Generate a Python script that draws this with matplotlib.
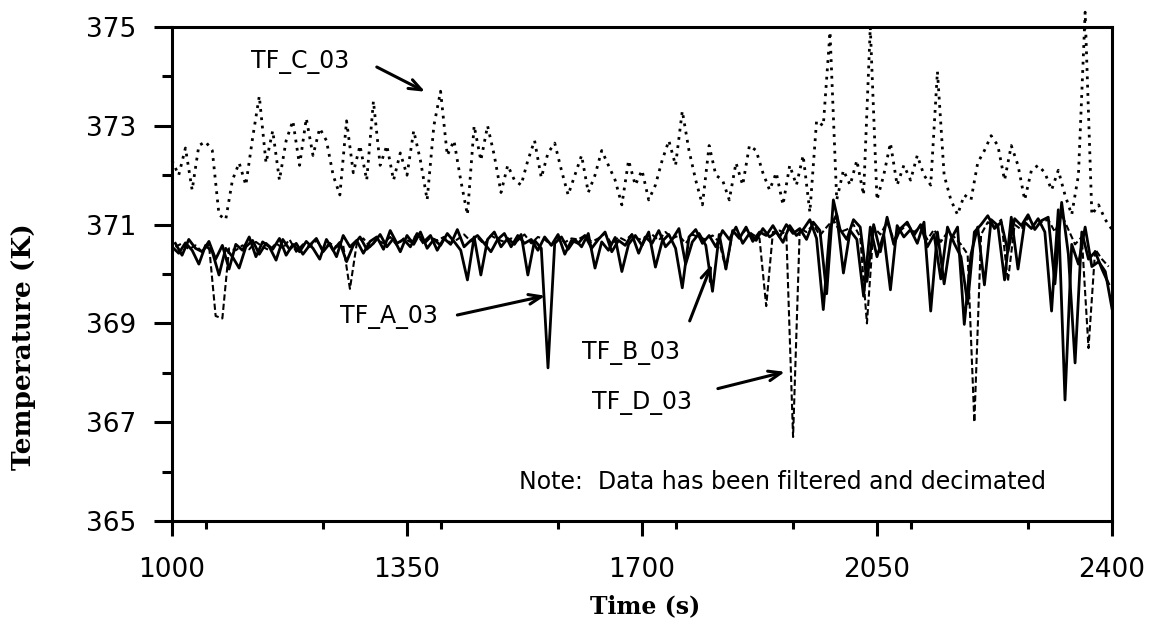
import numpy as np
import matplotlib
matplotlib.use("Agg")
import matplotlib.pyplot as plt
from matplotlib.ticker import MultipleLocator

# Thermocouple readings (K), sampled every 10 s
time_a = np.arange(1000, 2401, 10)
tf_a_03 = [
    370.55, 370.42, 370.63, 370.48, 370.20, 370.58, 370.45, 369.98, 370.52, 370.35,
    370.12, 370.55, 370.68, 370.40, 370.62, 370.50, 370.72, 370.38, 370.60, 370.45,
    370.66, 370.52, 370.30, 370.70, 370.48, 370.64, 370.25, 370.58, 370.75, 370.50,
    370.62, 370.80, 370.55, 370.72, 370.45, 370.78, 370.60, 370.85, 370.52, 370.70,
    370.58, 370.82, 370.66, 370.48, 369.88, 370.75, 369.98, 370.70, 370.85, 370.55,
    370.72, 370.60, 370.80, 369.98, 370.68, 370.52, 368.10, 370.62, 370.75, 370.50,
    370.70, 370.55, 370.82, 370.12, 370.65, 370.48, 370.74, 370.05, 370.60, 370.78,
    370.58, 370.85, 370.14, 370.66, 370.80, 370.52, 369.72, 370.75, 370.90, 370.62,
    370.78, 370.55, 370.88, 370.70, 370.95, 370.62, 370.82, 370.68, 370.92, 370.75,
    370.85, 370.64, 370.98, 370.78, 370.90, 371.10, 370.72, 369.28, 370.95, 371.20,
    370.02, 370.88, 370.70, 369.55, 370.95, 370.35, 370.80, 369.68, 370.98, 370.75,
    370.90, 370.62, 371.05, 369.25, 370.85, 369.80, 370.70, 370.95, 368.98, 370.40,
    370.95, 369.78, 371.10, 370.98, 369.88, 371.15, 370.10, 371.05, 370.92, 371.12,
    370.85, 369.25, 371.30, 367.45, 370.60, 370.20, 370.95, 370.15, 370.25, 370.05,
    369.30,
]

time_b = np.arange(1005, 2400, 10)
tf_b_03 = [
    370.62, 370.38, 370.70, 370.52, 370.45, 370.66, 370.30, 370.58, 370.10, 370.60,
    370.48, 370.75, 370.35, 370.65, 370.55, 370.28, 370.70, 370.50, 370.62, 370.40,
    370.58, 370.72, 370.45, 370.62, 370.35, 370.78, 370.55, 370.68, 370.42, 370.66,
    370.75, 370.50, 370.88, 370.62, 370.70, 370.55, 370.82, 370.65, 370.78, 370.48,
    370.72, 370.60, 370.90, 370.55, 370.68, 370.78, 370.62, 370.45, 370.70, 370.82,
    370.55, 370.78, 370.62, 370.70, 370.48, 370.75, 370.58, 370.80, 370.40, 370.68,
    370.62, 370.78, 370.52, 370.70, 370.85, 370.45, 370.68, 370.58, 370.80, 370.42,
    370.75, 370.62, 370.88, 370.55, 370.70, 370.92, 370.20, 370.65, 370.82, 370.58,
    369.65, 370.80, 370.10, 370.88, 370.72, 370.95, 370.66, 370.85, 370.78, 370.98,
    370.75, 371.00, 370.82, 370.92, 370.70, 371.05, 370.88, 369.60, 371.50, 370.90,
    370.70, 371.10, 370.95, 369.85, 371.00, 370.45, 371.15, 370.60, 370.92, 371.05,
    370.78, 371.00, 370.55, 370.80, 369.90, 370.95, 370.62, 370.35, 369.40, 370.85,
    371.00, 371.18, 370.92, 371.05, 370.45, 371.12, 370.98, 371.20, 370.90, 371.08,
    371.15, 369.80, 371.45, 370.40, 368.20, 370.85, 370.30, 370.45, 370.10, 369.80,
]

time_c = np.arange(1000, 2401, 10)
tf_c_03 = [
    372.30, 372.00, 372.55, 371.70, 372.60, 372.68, 372.50, 371.20, 371.10, 371.90,
    372.25, 371.80, 372.75, 373.60, 372.25, 372.90, 371.90, 372.70, 373.10, 372.20,
    373.15, 372.40, 372.95, 372.70, 372.00, 371.60, 373.10, 372.05, 372.60, 371.90,
    373.50, 372.20, 372.60, 371.90, 372.45, 372.00, 372.90, 372.30, 371.50, 373.00,
    373.70, 372.40, 372.70, 371.90, 371.20, 373.00, 372.30, 373.00, 372.40, 371.65,
    372.20, 371.90, 371.80, 372.30, 372.70, 371.95, 372.45, 372.65, 372.10, 371.60,
    372.00, 372.40, 371.65, 372.00, 372.50, 372.20, 371.90, 371.40, 372.30, 371.80,
    372.10, 371.50, 371.80, 372.30, 372.70, 372.20, 373.30, 372.50, 371.90, 371.40,
    372.60, 372.00, 371.90, 371.50, 372.25, 371.80, 372.60, 372.50, 372.05, 371.70,
    372.05, 371.40, 372.20, 371.80, 372.40, 371.25, 373.10, 373.00, 374.90, 371.50,
    372.10, 371.80, 372.30, 371.60, 375.00, 371.50, 372.00, 372.65, 371.80, 372.20,
    371.90, 372.40, 372.00, 371.80, 374.10, 372.00, 371.50, 371.20, 371.60, 371.50,
    372.25, 372.50, 372.80, 372.60, 371.90, 372.60, 372.20, 371.50, 372.10, 372.20,
    372.05, 371.70, 372.10, 371.60, 371.20, 372.00, 375.30, 371.20, 371.40, 371.10,
    370.90,
]

time_d = np.arange(1005, 2400, 10)
tf_d_03 = [
    370.55, 370.62, 370.50, 370.58, 370.45, 370.60, 369.15, 369.10, 370.52, 370.48,
    370.58, 370.50, 370.65, 370.55, 370.48, 370.62, 370.52, 370.70, 370.45, 370.60,
    370.55, 370.68, 370.50, 370.62, 370.55, 370.58, 369.70, 370.60, 370.72, 370.55,
    370.70, 370.62, 370.75, 370.58, 370.72, 370.65, 370.80, 370.60, 370.74, 370.68,
    370.75, 370.62, 370.70, 370.80, 370.66, 370.74, 370.60, 370.78, 370.70, 370.65,
    370.72, 370.68, 370.80, 370.62, 370.75, 370.70, 370.58, 370.76, 370.64, 370.72,
    370.70, 370.78, 370.65, 370.72, 370.82, 370.60, 370.75, 370.68, 370.80, 370.70,
    370.74, 370.80, 370.68, 370.85, 370.72, 370.78, 370.62, 370.80, 370.74, 370.70,
    370.78, 370.65, 370.10, 370.85, 370.75, 370.90, 370.80, 370.72, 369.35, 370.85,
    370.88, 370.80, 366.70, 370.92, 370.85, 371.00, 370.78, 370.95, 371.10, 370.85,
    370.90, 371.00, 370.75, 369.00, 370.95, 370.80, 371.05, 370.70, 370.88, 371.00,
    370.85, 370.95, 370.70, 370.90, 370.65, 370.85, 370.75, 370.60, 370.40, 367.00,
    370.80, 371.05, 370.95, 371.10, 369.85, 371.00, 370.90, 371.15, 370.95, 371.05,
    371.10, 370.85, 371.20, 370.90, 370.60, 370.75, 368.50, 370.50, 370.30, 370.15,
]

x_ticks = [1000, 1350, 1700, 2050, 2400]
y_ticks = [365, 367, 369, 371, 373, 375]

fig = plt.figure(figsize=(11.49, 6.26), dpi=100)
ax = fig.add_axes([172 / 1149, 1 - 521 / 626, 940 / 1149, 494 / 626])

ax.plot(time_c, tf_c_03, color="black", lw=2.0, linestyle=(0, (1, 2)),
        clip_on=False, zorder=2)
ax.plot(time_d, tf_d_03, color="black", lw=1.5, linestyle=(0, (3, 1.5)), zorder=3)
ax.plot(time_b, tf_b_03, color="black", lw=2.0, zorder=4)
ax.plot(time_a, tf_a_03, color="black", lw=2.0, zorder=5)

ax.set_xlim(1000, 2400)
ax.set_ylim(365, 375)
ax.set_xticks(x_ticks)
ax.set_yticks(y_ticks)
ax.xaxis.set_minor_locator(MultipleLocator(175))
ax.yaxis.set_minor_locator(MultipleLocator(1))

for s in ax.spines.values():
    s.set_linewidth(2.2)

ax.tick_params(axis="both", which="major", direction="out", width=2.2)
ax.tick_params(axis="x", which="major", length=11, pad=15)
ax.tick_params(axis="y", which="major", length=13, pad=13)
ax.tick_params(axis="x", which="minor", direction="out", length=6, width=2.2)
ax.tick_params(axis="y", which="minor", direction="out", length=7, width=2.2)
for lab in ax.get_xticklabels() + ax.get_yticklabels():
    lab.set_fontfamily("DejaVu Sans")
    lab.set_fontsize(19)

fig.text(23 / 1149, 1 - 347 / 626, "Temperature (K)", rotation=90,
         ha="center", va="center", family="DejaVu Serif", weight="bold", size=19)
fig.text(645 / 1149, 1 - 606 / 626, "Time (s)", ha="center", va="center",
         family="DejaVu Serif", weight="bold", size=17)

ann_font = dict(family="DejaVu Sans", size=17)
arrow = dict(arrowstyle="->,head_length=0.9,head_width=0.35", lw=2.2,
             color="black", shrinkA=0, shrinkB=0)

ax.text(1118, 374.3, "TF_C_03", ha="left", va="center", **ann_font)
ax.annotate("", xy=(1377, 373.69), xytext=(1305, 374.19), arrowprops=arrow)

ax.text(1250, 369.13, "TF_A_03", ha="left", va="center", **ann_font)
ax.annotate("", xy=(1556, 369.56), xytext=(1425, 369.17), arrowprops=arrow)

ax.text(1611, 368.41, "TF_B_03", ha="left", va="center", **ann_font)
ax.annotate("", xy=(1804, 370.2), xytext=(1771, 369.05), arrowprops=arrow)

ax.text(1626, 367.38, "TF_D_03", ha="left", va="center", **ann_font)
ax.annotate("", xy=(1913, 368.02), xytext=(1813, 367.68), arrowprops=arrow)

ax.text(1517, 365.79, "Note:  Data has been filtered and decimated",
        ha="left", va="center", **ann_font)

fig.savefig("out.png", dpi=100)
